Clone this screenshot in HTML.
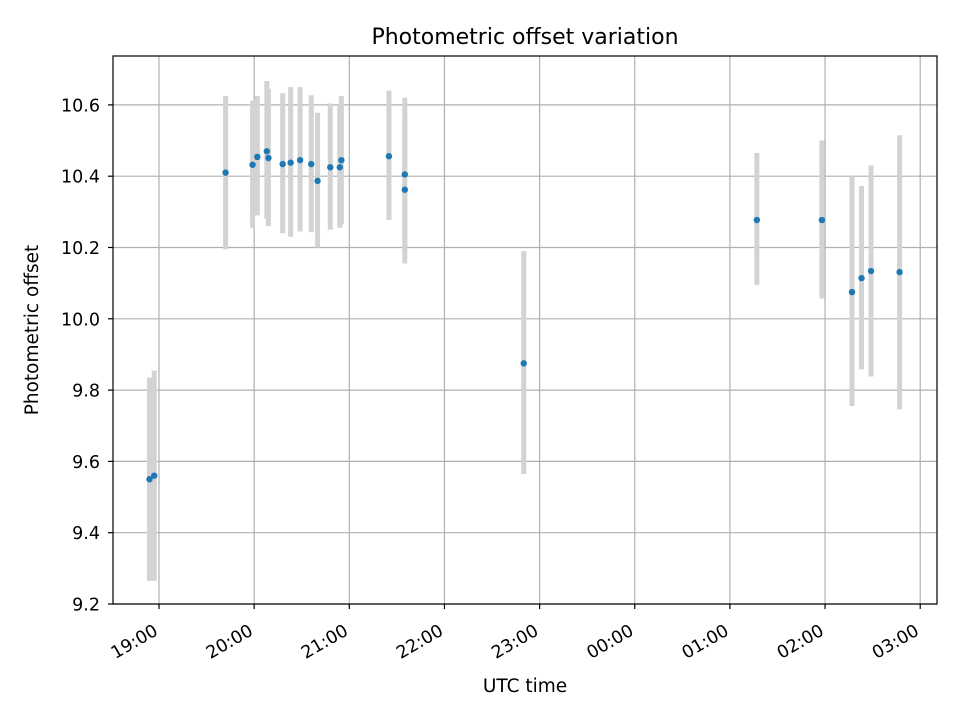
<!DOCTYPE html>
<html><head><meta charset="utf-8"><style>
html,body{margin:0;padding:0;background:#fff}
svg text{font-family:"DejaVu Sans","Liberation Sans",sans-serif;fill:#000}
</style></head><body>
<svg id="chart" width="960" height="720" viewBox="0 0 960 720" xmlns="http://www.w3.org/2000/svg">
<rect width="960" height="720" fill="#fff"/>
<g id="grid"></g><g id="bars"></g><g id="pts"></g><g id="axes"></g>
</svg>
<script>
const times = ["18:54","18:57","19:42","19:59","20:02","20:08","20:09","20:18","20:23","20:29","20:36","20:40","20:48","20:54","20:55","21:25","21:35","21:35","22:50","01:17","01:58","02:17","02:23","02:29","02:47"];
const offsets = [9.55,9.56,10.41,10.432,10.454,10.47,10.451,10.434,10.438,10.445,10.434,10.387,10.425,10.425,10.445,10.456,10.405,10.362,9.875,10.277,10.277,10.075,10.114,10.134,10.131];
const upper = [9.835,9.855,10.625,10.612,10.625,10.667,10.645,10.633,10.65,10.65,10.627,10.578,10.604,10.6,10.625,10.64,10.62,10.57,10.19,10.465,10.5,10.40,10.373,10.43,10.515];
const lower = [9.265,9.265,10.195,10.255,10.29,10.28,10.26,10.24,10.23,10.245,10.243,10.2,10.25,10.255,10.265,10.277,10.19,10.155,9.565,10.095,10.057,9.755,9.858,9.838,9.746];
const yTicks = [9.2,9.4,9.6,9.8,10.0,10.2,10.4,10.6];
const xTicks = ["19:00","20:00","21:00","22:00","23:00","00:00","01:00","02:00","03:00"];

const L=113,R=937,T=56,B=604;
function mins(s){let [h,m]=s.split(":").map(Number);if(h<12)h+=24;return h*60+m;}
function xs(s){return 159+(mins(s)-19*60)/60*95.15;}
function ys(v){return 604-(v-9.2)/0.2*71.3;}
const NS="http://www.w3.org/2000/svg";
function mk(p,tag,a){const e=document.createElementNS(NS,tag);for(const k in a)e.setAttribute(k,a[k]);p.appendChild(e);return e;}
const grid=document.getElementById('grid'),bars=document.getElementById('bars'),pts=document.getElementById('pts'),axes=document.getElementById('axes');
yTicks.forEach(v=>{const y=ys(v);
 const g=mk(grid,'line',{x1:L,x2:R,y1:y,y2:y,stroke:'#b0b0b0','stroke-width':1.2});
 
 
 mk(axes,'line',{x1:L-5,x2:L,y1:y,y2:y,stroke:'#000','stroke-width':1.2});
 const t=mk(axes,'text',{x:L-13,y:y+6.5,'text-anchor':'end','font-size':17.5});t.textContent=v.toFixed(1);
 
 
});
xTicks.forEach(s=>{const x=xs(s);
 const g=mk(grid,'line',{x1:x,x2:x,y1:T,y2:B,stroke:'#b0b0b0','stroke-width':1.2});
 
 
 mk(axes,'line',{x1:x,x2:x,y1:B,y2:B+5,stroke:'#000','stroke-width':1.2});
 const t=mk(axes,'text',{x:x,y:B+30,'text-anchor':'end','font-size':17.5,transform:`rotate(-30 ${x} ${B+30})`});t.textContent=s;
 
 
});
times.forEach((s,i)=>{const x=xs(s);
 const b=mk(bars,'line',{x1:x,x2:x,y1:ys(upper[i]),y2:ys(lower[i]),stroke:'#d3d3d3','stroke-width':5});
 
 
 const c=mk(pts,'circle',{cx:x,cy:ys(offsets[i]),r:3.2,fill:'#1f77b4'});
 
 
});
const fr=mk(axes,'rect',{x:L,y:T,width:R-L,height:B-T,fill:'none',stroke:'#000','stroke-width':1.2});


const ti=mk(axes,'text',{x:(L+R)/2,y:44,'text-anchor':'middle','font-size':22});ti.textContent='Photometric offset variation';


const xl=mk(axes,'text',{x:(L+R)/2,y:692,'text-anchor':'middle','font-size':18.5});xl.textContent='UTC time';


const yl=mk(axes,'text',{x:38,y:(T+B)/2,'text-anchor':'middle','font-size':18.5,transform:`rotate(-90 38 ${(T+B)/2})`});yl.textContent='Photometric offset';


</script>
</body></html>
